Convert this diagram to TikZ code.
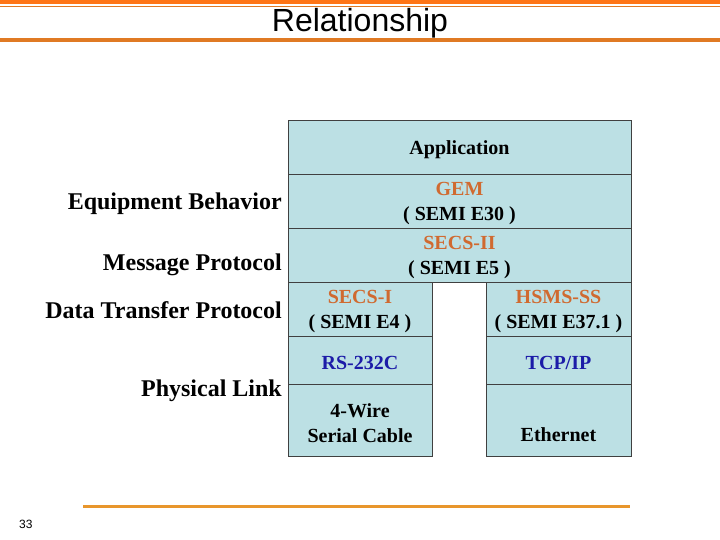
\documentclass[tikz,border=0pt]{standalone}
\usepackage{fontspec}
\setmainfont{Liberation Serif}
\newfontfamily\arialfont{Liberation Sans}
\definecolor{cellblue}{HTML}{BCE0E4}
\definecolor{cellline}{HTML}{404040}
\definecolor{txtorange}{HTML}{D06A30}
\definecolor{txtblue}{HTML}{1C1CA8}
\definecolor{barorange}{HTML}{FF7414}
\definecolor{lineorange}{HTML}{E07A24}
\definecolor{footorange}{HTML}{E8962C}
\begin{document}
\begin{tikzpicture}[x=1pt,y=-1pt,
  cell/.style={draw=cellline, fill=cellblue, line width=0.8pt, inner sep=0pt},
  celltext/.style={inner sep=0pt, align=center, font=\bfseries\fontsize{20}{25}\selectfont},
  side/.style={anchor=base east, inner sep=0pt, font=\bfseries\fontsize{24}{28}\selectfont}]
\useasboundingbox (0,0) rectangle (720,540);
% header bars
\fill[barorange] (0,0) rectangle (720,4);
\draw[lineorange, line width=1.6pt] (0,6.5) -- (720,6.5);
\draw[lineorange, line width=3.2pt] (0,40) -- (720,40);
\node[anchor=base, inner sep=0pt, font=\arialfont\fontsize{32}{34}\selectfont] (title) at (360,32) {Relationship};
% footer
\draw[footorange, line width=3pt] (83,506) -- (630,506);
\node[anchor=base west, inner sep=0pt, font=\arialfont\fontsize{12}{14}\selectfont] (pg) at (19,528) {33};
% stack boxes
\node[cell, minimum width=343pt, minimum height=54pt] (app) at (459.5,147) {};
\node[cell, minimum width=343pt, minimum height=54pt] (gem) at (459.5,201) {};
\node[cell, minimum width=343pt, minimum height=54pt] (secs2) at (459.5,255) {};
\node[cell, minimum width=144pt, minimum height=54pt] (secs1) at (360,309) {};
\node[cell, minimum width=145pt, minimum height=54pt] (hsms) at (558.5,309) {};
\node[cell, minimum width=144pt, minimum height=48pt] (rs) at (360,360) {};
\node[cell, minimum width=145pt, minimum height=48pt] (tcp) at (558.5,360) {};
\node[cell, minimum width=144pt, minimum height=72pt] (wire) at (360,420) {};
\node[cell, minimum width=145pt, minimum height=72pt] (eth) at (558.5,420) {};
% stack texts
\node[celltext] (appt) at ([yshift=-3pt]app.center) {Application};
\node[celltext] (gemt) at ([yshift=-3pt]gem.center) {\textcolor{txtorange}{GEM}\\( SEMI E30 )};
\node[celltext] (secs2t) at ([yshift=-3pt]secs2.center) {\textcolor{txtorange}{SECS-II}\\( SEMI E5 )};
\node[celltext] (secs1t) at ([yshift=-3pt]secs1.center) {\textcolor{txtorange}{SECS-I}\\( SEMI E4 )};
\node[celltext] (hsmst) at ([yshift=-3pt]hsms.center) {\textcolor{txtorange}{HSMS-SS}\\( SEMI E37.1 )};
\node[celltext, text=txtblue] (rst) at ([yshift=-3pt]rs.center) {RS-232C};
\node[celltext, text=txtblue] (tcpt) at ([yshift=-3pt]tcp.center) {TCP/IP};
\node[celltext] (wiret) at ([yshift=-3pt]wire.center) {4-Wire\\Serial Cable};
\node[celltext] (etht) at ([yshift=-3pt]eth.center) {\phantom{X}\\Ethernet};
% side labels
\node[side] (eb) at (282,210) {Equipment Behavior};
\node[side] (mp) at (282,270) {Message Protocol};
\node[side] (dtp) at (282,318) {Data Transfer Protocol};
\node[side] (pl) at (282,396) {Physical Link};
\end{tikzpicture}
\end{document}
